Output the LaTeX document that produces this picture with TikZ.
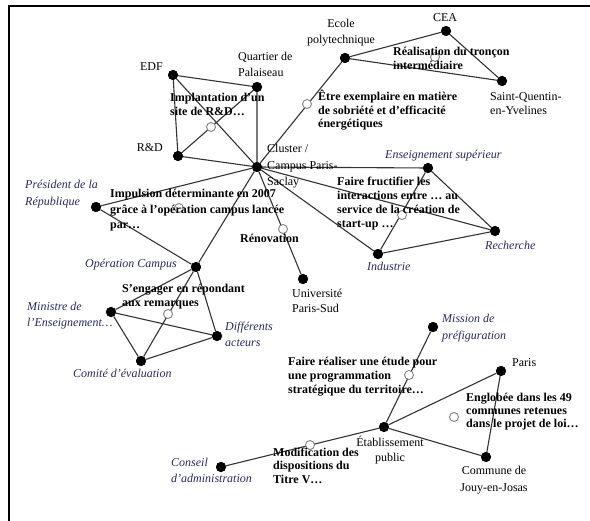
\documentclass[tikz,border=0pt]{standalone}
\usepackage{fontspec}
\setmainfont{Liberation Serif}
\definecolor{actor}{RGB}{40,40,100}
\definecolor{hubgray}{RGB}{130,130,130}
\tikzset{
  pt/.style={circle, fill=black, inner sep=0pt, minimum size=10bp},
  hub/.style={circle, draw=hubgray, fill=white, line width=0.9bp, inner sep=0pt, minimum size=9bp},
  link/.style={draw=black!80, line width=1.1bp},
  rlab/.style={inner sep=0pt, font=\fontsize{12bp}{15.5bp}\selectfont, text=black},
  ilab/.style={inner sep=0pt, font=\fontsize{12bp}{16.5bp}\selectfont\itshape, text=actor},
  elab/.style={inner sep=0pt, font=\fontsize{12bp}{14bp}\selectfont\bfseries, text=black},
}
\begin{document}
\begin{tikzpicture}[x=1bp,y=-1bp]
\useasboundingbox (0,0) rectangle (590,521);
\draw[line width=2.2bp] (590,6) -- (9,6) -- (9,521);

% actor dots
\node[pt] (edf) at (173,75) {};
\node[pt] (qp) at (257,87) {};
\node[pt] (rd) at (178,156) {};
\node[pt] (cl) at (257,167) {};
\node[pt] (ep) at (345,58) {};
\node[pt] (cea) at (446,31) {};
\node[pt] (sq) at (502,81) {};
\node[pt] (pr) at (96,207) {};
\node[pt] (oc) at (196,267) {};
\node[pt] (up) at (303,279) {};
\node[pt] (es) at (428,168) {};
\node[pt] (re) at (495,231) {};
\node[pt] (in) at (378,254) {};
\node[pt] (mi) at (111,312) {};
\node[pt] (da) at (217,336) {};
\node[pt] (ce) at (141,361) {};
\node[pt] (mp) at (433,327) {};
\node[pt] (pa) at (501,371) {};
\node[pt] (et) at (384,427) {};
\node[pt] (jj) at (486,457) {};
\node[pt] (ca) at (221,467) {};

% links
\draw[link] (edf) -- (qp) (edf) -- (rd) (edf) -- (cl) (qp) -- (rd) (qp) -- (cl) (rd) -- (cl);
\draw[link] (ep) -- (cl);
\draw[link] (ep) -- (cea) (cea) -- (sq) (ep) -- (sq);
\draw[link] (pr) -- (cl) (pr) -- (oc) (cl) -- (oc);
\draw[link] (cl) -- (up);
\draw[link] (cl) -- (es) (cl) -- (re) (cl) -- (in) (es) -- (re) (es) -- (in) (in) -- (re);
\draw[link] (oc) -- (mi) (oc) -- (da) (oc) -- (ce) (mi) -- (da) (mi) -- (ce) (ce) -- (da);
\draw[link] (et) -- (mp);
\draw[link] (et) -- (pa) (pa) -- (jj) (et) -- (jj);
\draw[link] (ca) -- (et);

% redraw dots on top
\foreach \n in {edf,qp,rd,cl,ep,cea,sq,pr,oc,up,es,re,in,mi,da,ce,mp,pa,et,jj,ca}
  \fill (\n) circle (5bp);

% hubs
\node[hub] (ha) at (211,127) {};
\node[hub] (hb) at (307,104) {};
\node[hub] (hc) at (435,57) {};
\node[hub] (hd) at (179,208) {};
\node[hub] (he) at (283,229) {};
\node[hub] (hf) at (402,215) {};
\node[hub] (hg) at (168,314) {};
\node[hub] (hh) at (409,375) {};
\node[hub] (hi) at (454,417) {};
\node[hub] (hj) at (310,445) {};

% actor labels (roman)  -- base = baseline of last line
\node[rlab, anchor=base east] (l-edf) at (163,71) {EDF};
\node[rlab, anchor=base west, align=left] (l-qp) at (238,76.5) {Quartier de\\Palaiseau};
\node[rlab, anchor=base east] (l-rd) at (163,152) {R\&D};
\node[rlab, anchor=base west, align=left, font=\fontsize{12bp}{16.5bp}\selectfont] (l-cl) at (267,186) {Cluster /\\Campus Paris-\\Saclay};
\node[rlab, anchor=base, align=center, font=\fontsize{12bp}{16bp}\selectfont] (l-ep) at (341,44) {Ecole\\polytechnique};
\node[rlab, anchor=base] (l-cea) at (445,22) {CEA};
\node[rlab, anchor=base west, align=left, font=\fontsize{12bp}{14bp}\selectfont] (l-sq) at (490,115) {Saint-Quentin-\\en-Yvelines};
\node[rlab, anchor=base west, align=left] (l-up) at (292,312.5) {Université\\Paris-Sud};
\node[rlab, anchor=base west] (l-pa) at (512,366) {Paris};
\node[rlab, anchor=base, align=center] (l-et) at (390,461.5) {Établissement\\public};
\node[rlab, anchor=base, align=center, font=\fontsize{12bp}{17bp}\selectfont] (l-jj) at (494,491) {Commune de\\Jouy-en-Josas};

% actor labels (italic)
\node[ilab, anchor=base west, align=left, font=\fontsize{12bp}{17bp}\selectfont\itshape] (l-pr) at (25,206) {Président de la\\République};
\node[ilab, anchor=base east] (l-oc) at (177,267) {Opération Campus};
\node[ilab, anchor=base west, align=left, font=\fontsize{12bp}{16bp}\selectfont\itshape] (l-mi) at (27,326) {Ministre de\\l’Enseignement…};
\node[ilab, anchor=base west, align=left, font=\fontsize{12bp}{16bp}\selectfont\itshape] (l-da) at (225,346) {Différents\\acteurs};
\node[ilab, anchor=base west] (l-ce) at (73,377) {Comité d’évaluation};
\node[ilab, anchor=base west] (l-es) at (385,159) {Enseignement supérieur};
\node[ilab, anchor=base west] (l-re) at (485,249) {Recherche};
\node[ilab, anchor=base west] (l-in) at (367,270) {Industrie};
\node[ilab, anchor=base west, align=left, font=\fontsize{12bp}{17bp}\selectfont\itshape] (l-mp) at (442,339) {Mission de\\préfiguration};
\node[ilab, anchor=base west, align=left, font=\fontsize{12bp}{16bp}\selectfont\itshape] (l-ca) at (171,482) {Conseil\\d’administration};

% relation labels (bold)
\node[elab, anchor=base west, align=left] (e-a) at (170,116) {Implantation d’un\\site de R\&D…};
\node[elab, anchor=base west, align=left, font=\fontsize{12bp}{13.5bp}\selectfont\bfseries] (e-b) at (318,128) {Être exemplaire en matière\\de sobriété et d’efficacité\\énergétiques};
\node[elab, anchor=base west, align=left] (e-c) at (393,70) {Réalisation du tronçon\\intermédiaire};
\node[elab, anchor=base west, align=left, font=\fontsize{12bp}{15.5bp}\selectfont\bfseries] (e-d) at (110,229) {Impulsion déterminante en 2007\\grâce à l’opération campus lancée\\par…};
\node[elab, anchor=base west] (e-e) at (240,242) {Rénovation};
\node[elab, anchor=base west, align=left] (e-f) at (337,228) {Faire fructifier les\\interactions entre … au\\service de la création de\\start-up …};
\node[elab, anchor=base west, align=left] (e-g) at (122,306) {S’engager en répondant\\aux remarques};
\node[elab, anchor=base west, align=left] (e-h) at (288,393) {Faire réaliser une étude pour\\une programmation\\stratégique du territoire…};
\node[elab, anchor=base west, align=left, font=\fontsize{12bp}{13bp}\selectfont\bfseries] (e-i) at (466,427) {Englobée dans les 49\\communes retenues\\dans le projet de loi…};
\node[elab, anchor=base west, align=left, font=\fontsize{12bp}{13.5bp}\selectfont\bfseries] (e-j) at (273,483) {Modification des\\dispositions du\\Titre V…};
\end{tikzpicture}
\end{document}
